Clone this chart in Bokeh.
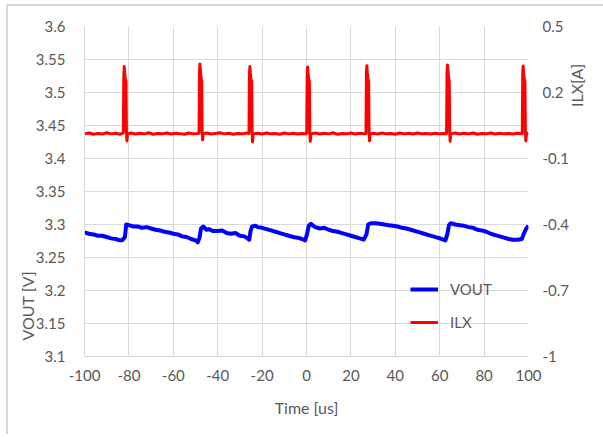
import math
from bokeh.plotting import figure
from bokeh.models import (Range1d, LinearAxis, FixedTicker, CustomJSTickFormatter,
                          Legend, LegendItem, Title, Label)
from bokeh.embed import file_html
from bokeh.resources import INLINE

# ---------------- data ----------------
x_ticks = [-100, -80, -60, -40, -20, 0, 20, 40, 60, 80, 100]
vout_ticks = [3.1, 3.15, 3.2, 3.25, 3.3, 3.35, 3.4, 3.45, 3.5, 3.55, 3.6]
ilx_ticks = [-1.0, -0.7, -0.4, -0.1, 0.2, 0.5]

vout_t = [-100, -98, -96, -94, -92, -90, -88, -86, -84, -83,
          -81.8, -81.2, -80, -78, -76, -74, -72, -70, -68, -66, -64, -62, -60, -58,
          -56, -54, -52, -50, -49,
          -48.2, -47.5, -46.5, -45, -44, -42, -40, -38, -36, -34, -32, -30, -28,
          -26.5, -25.8,
          -25.2, -24.5, -23, -22, -20, -18, -16, -14, -12, -10, -8, -6, -4, -2, -0.6,
          0.2, 1.0, 2, 3, 4, 6, 8, 10, 12, 14, 16, 18, 20, 22, 24, 25.8,
          27.0, 27.8, 29, 31, 33, 35, 37, 39, 41, 43, 45, 47, 49, 51, 53, 55, 57, 59,
          61, 62.6,
          63.4, 64.2, 65, 67, 69, 71, 73, 75, 77, 79, 81, 83, 85, 87, 89, 91, 93, 95,
          97, 98, 99, 100]
vout_v = [3.288, 3.286, 3.285, 3.283, 3.283, 3.281, 3.279, 3.278, 3.276, 3.276,
          3.281, 3.300, 3.299, 3.297, 3.297, 3.295, 3.296, 3.294, 3.292, 3.291, 3.289,
          3.288, 3.286, 3.285, 3.282, 3.281, 3.278, 3.276, 3.273,
          3.280, 3.294, 3.297, 3.292, 3.293, 3.290, 3.290, 3.291, 3.287, 3.286, 3.287,
          3.283, 3.282, 3.279, 3.277,
          3.290, 3.297, 3.298, 3.296, 3.295, 3.293, 3.291, 3.289, 3.287, 3.285, 3.283,
          3.281, 3.280, 3.278, 3.276,
          3.285, 3.298, 3.301, 3.298, 3.296, 3.294, 3.295, 3.292, 3.290, 3.289, 3.287,
          3.285, 3.283, 3.281, 3.279, 3.277,
          3.285, 3.300, 3.302, 3.302, 3.301, 3.300, 3.299, 3.298, 3.297, 3.295, 3.294,
          3.292, 3.290, 3.288, 3.286, 3.284, 3.282, 3.280, 3.278, 3.276,
          3.285, 3.299, 3.302, 3.300, 3.299, 3.298, 3.296, 3.295, 3.292, 3.291, 3.289,
          3.286, 3.284, 3.282, 3.280, 3.278, 3.277, 3.277, 3.278, 3.287, 3.294, 3.298]

ilx_t = [-100, -98, -96, -94, -92, -90, -88, -86, -84, -83,
         -82.5, -82.3, -82.1, -81.9, -81.6, -81.3, -81.1, -80.9, -80.6,
         -79, -77, -75, -73, -71, -69, -67, -65, -63, -61, -59, -57, -55, -53, -51, -49,
         -48.4, -48.2, -48.0, -47.8, -47.5, -47.2, -47.0, -46.8, -46.5,
         -45, -43, -41, -39, -37, -35, -33, -31, -29, -27, -26,
         -25.9, -25.7, -25.5, -25.3, -25.0, -24.7, -24.5, -24.3, -24.0,
         -22, -20, -18, -16, -14, -12, -10, -8, -6, -4, -2, -0.2,
         0.1, 0.3, 0.5, 0.7, 1.0, 1.3, 1.5, 1.7, 2.0,
         4, 6, 8, 10, 12, 14, 16, 18, 20, 22, 24, 26,
         26.8, 27.0, 27.2, 27.4, 27.7, 28.0, 28.2, 28.4, 28.7,
         30, 32, 34, 36, 38, 40, 42, 44, 46, 48, 50, 52, 54, 56, 58, 60, 62, 63,
         63.1, 63.3, 63.5, 63.7, 64.0, 64.3, 64.5, 64.7, 65.0,
         67, 69, 71, 73, 75, 77, 79, 81, 83, 85, 87, 89, 91, 93, 95, 97,
         97.2, 97.4, 97.6, 97.8, 98.1, 98.4, 98.6, 98.8, 99.1, 100]
ilx_a = [0.012, 0.016, 0.010, 0.014, 0.011, 0.017, 0.012, 0.015, 0.010, 0.014,
         0.016, 0.270, 0.318, 0.290, 0.260, 0.250, 0.020, -0.020, 0.012,
         0.016, 0.011, 0.015, 0.012, 0.017, 0.010, 0.014, 0.012, 0.016, 0.011, 0.015,
         0.013, 0.010, 0.016, 0.012, 0.014,
         0.015, 0.290, 0.330, 0.300, 0.270, 0.250, 0.020, -0.015, 0.012,
         0.016, 0.011, 0.014, 0.017, 0.012, 0.015, 0.010, 0.014, 0.012, 0.016, 0.013,
         0.014, 0.280, 0.318, 0.290, 0.260, 0.250, 0.020, -0.025, 0.012,
         0.015, 0.011, 0.016, 0.012, 0.014, 0.010, 0.016, 0.012, 0.015, 0.011, 0.014,
         0.013,
         0.015, 0.280, 0.316, 0.290, 0.260, 0.250, 0.020, -0.022, 0.012,
         0.016, 0.011, 0.015, 0.012, 0.017, 0.010, 0.014, 0.012, 0.016, 0.011, 0.015,
         0.013,
         0.014, 0.290, 0.322, 0.290, 0.260, 0.250, 0.020, -0.020, 0.012,
         0.015, 0.011, 0.016, 0.012, 0.014, 0.010, 0.016, 0.012, 0.015, 0.011, 0.016,
         0.012, 0.014, 0.011, 0.015, 0.012, 0.014, 0.013,
         0.015, 0.290, 0.325, 0.300, 0.270, 0.250, 0.020, -0.022, 0.012,
         0.016, 0.011, 0.015, 0.012, 0.016, 0.010, 0.014, 0.012, 0.016, 0.011, 0.015,
         0.012, 0.014, 0.011, 0.015, 0.013,
         0.014, 0.290, 0.320, 0.290, 0.260, 0.250, 0.020, -0.020, 0.012, 0.016]

# ---------------- styling ----------------
FONT = "Lato"
TXT = "#595959"
GRID = "#d9d9d9"

p = figure(frame_width=444, frame_height=330, output_backend="svg",
           toolbar_location=None, x_range=Range1d(-100, 100),
           y_range=Range1d(3.1, 3.6), min_border_left=76, min_border_right=75,
           min_border_top=20, min_border_bottom=78,
           background_fill_color="white", border_fill_color="white")
p.styles = {"margin": "4px 0px 0px 6px",
            "border-left": "2px solid #d9d9d9",
            "border-top": "2px solid #d9d9d9"}
p.outline_line_color = None
p.extra_y_ranges = {"ilx": Range1d(-1.0, 0.5)}

fmt = CustomJSTickFormatter(code="return String(Math.round(tick*1000)/1000);")

p.xaxis.ticker = FixedTicker(ticks=x_ticks)
p.yaxis.ticker = FixedTicker(ticks=vout_ticks)
p.yaxis.formatter = fmt
p.xaxis.formatter = fmt

ax_r = LinearAxis(y_range_name="ilx", ticker=FixedTicker(ticks=ilx_ticks), formatter=fmt)
p.add_layout(ax_r, "right")

for ax in [p.xaxis[0], p.yaxis[0], ax_r]:
    ax.major_tick_line_color = None
    ax.minor_tick_line_color = None
    ax.major_label_text_font = FONT
    ax.major_label_text_font_size = "15px"
    ax.major_label_text_color = TXT
    ax.axis_line_color = GRID
    ax.major_label_standoff = 13
ax_r.axis_line_color = None
ax_r.major_label_standoff = 8

p.xaxis.axis_label = "Time [us]"
p.xaxis.axis_label_text_font = FONT
p.xaxis.axis_label_text_font_size = "16px"
p.xaxis.axis_label_text_font_style = "normal"
p.xaxis.axis_label_text_color = TXT
p.xaxis.axis_label_standoff = 14
p.xaxis.major_label_standoff = 7

p.xgrid.grid_line_color = GRID
p.ygrid.grid_line_color = GRID
p.xgrid.ticker = FixedTicker(ticks=x_ticks)
p.ygrid.ticker = FixedTicker(ticks=vout_ticks)

r_v = p.line(vout_t, vout_v, line_color="#0000ff", line_width=4, line_join="round")
r_i = p.line(ilx_t, ilx_a, line_color="#ff0000", line_width=3, line_join="round",
             y_range_name="ilx")

legend = Legend(items=[LegendItem(label="VOUT", renderers=[r_v]),
                       LegendItem(label="ILX", renderers=[r_i])],
                location=(326, 24), orientation="vertical",
                background_fill_alpha=0, border_line_color=None,
                glyph_width=28, glyph_height=20, label_height=20, spacing=13,
                label_standoff=12, padding=0, margin=0,
                label_text_font=FONT, label_text_font_size="15px", label_text_color=TXT)
p.add_layout(legend)

t_l = Title(text="VOUT [V]", align="left", offset=16, standoff=-9,
            text_font=FONT, text_font_size="16px", text_font_style="normal",
            text_color=TXT)
p.add_layout(t_l, "left")

lab_r = Label(x=4, y=271, x_units="screen", y_units="screen", text="ILX[A]",
              angle=math.pi / 2, text_align="center", text_baseline="middle",
              text_font=FONT, text_font_size="16px", text_color=TXT)
p.add_layout(lab_r, "right")

open("out.html", "w").write(file_html(p, INLINE))
